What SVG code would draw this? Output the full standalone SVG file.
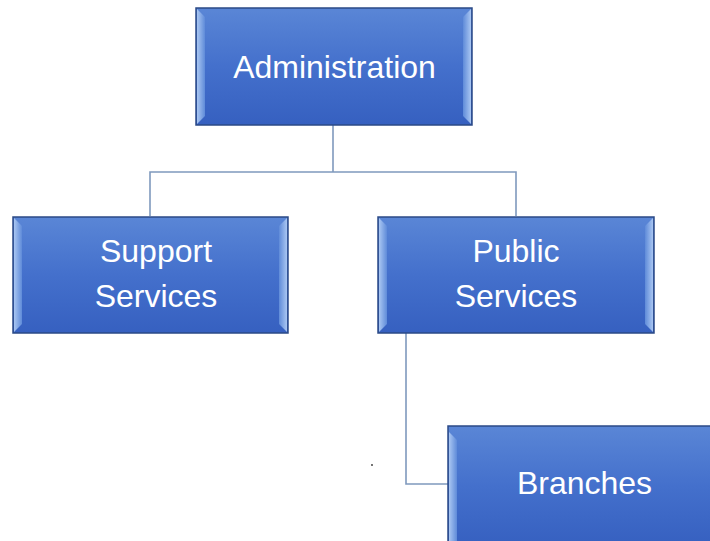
<svg xmlns="http://www.w3.org/2000/svg" width="710" height="541" viewBox="0 0 710 541">
<defs>
<linearGradient id="g" x1="0" y1="0" x2="0" y2="1">
<stop offset="0" stop-color="#5a86d6"/>
<stop offset="0.5" stop-color="#4470cc"/>
<stop offset="1" stop-color="#3660c0"/>
</linearGradient>
<linearGradient id="bl" x1="0" y1="0" x2="1" y2="0">
<stop offset="0" stop-color="#a9c6f2"/>
<stop offset="1" stop-color="#5f8bd9"/>
</linearGradient>
<linearGradient id="br" x1="0" y1="0" x2="1" y2="0">
<stop offset="0" stop-color="#5f8bd9"/>
<stop offset="1" stop-color="#a9c6f2"/>
</linearGradient>
</defs>
<style>
.box{fill:url(#g);stroke:#2b4a86;stroke-width:1.5}
.bl{fill:url(#bl)}
.br{fill:url(#br)}
.t{font-family:"Liberation Sans",Arial,sans-serif;font-size:32px;fill:#ffffff;text-anchor:middle}
.c{fill:none;stroke:#7f99bd;stroke-width:1.6}
</style>
<rect width="710" height="541" fill="#ffffff"/>
<g id="connectors">
<path class="c" d="M150 216 V172 H516 V216"/>
<path class="c" d="M333 125 V172" stroke="#4a6aa0"/>
<path class="c" d="M406 333 V484 H448"/>
</g>
<g id="administration">
<rect class="box" x="196" y="8" width="276" height="117"/>
<polygon class="bl" points="197,9 205,17 205,116 197,124"/>
<polygon class="br" points="471,9 463,17 463,116 471,124"/>
<text class="t" x="334.5" y="78">Administration</text>
</g>
<g id="support">
<rect class="box" x="13" y="217" width="275" height="116"/>
<polygon class="bl" points="14,218 22,226 22,324 14,332"/>
<polygon class="br" points="287,218 279,226 279,324 287,332"/>
<text class="t" x="156" y="262">Support</text>
<text class="t" x="156" y="307">Services</text>
</g>
<g id="public">
<rect class="box" x="378" y="217" width="276" height="116"/>
<polygon class="bl" points="379,218 387,226 387,324 379,332"/>
<polygon class="br" points="653,218 645,226 645,324 653,332"/>
<text class="t" x="516" y="262">Public</text>
<text class="t" x="516" y="307">Services</text>
</g>
<g id="branches">
<rect class="box" x="448" y="426" width="275" height="120"/>
<polygon class="bl" points="449,432 457,440 457,541 449,541"/>
<text class="t" x="584.5" y="494">Branches</text>
</g>
<circle cx="372" cy="465" r="0.9" fill="#333"/>
</svg>
